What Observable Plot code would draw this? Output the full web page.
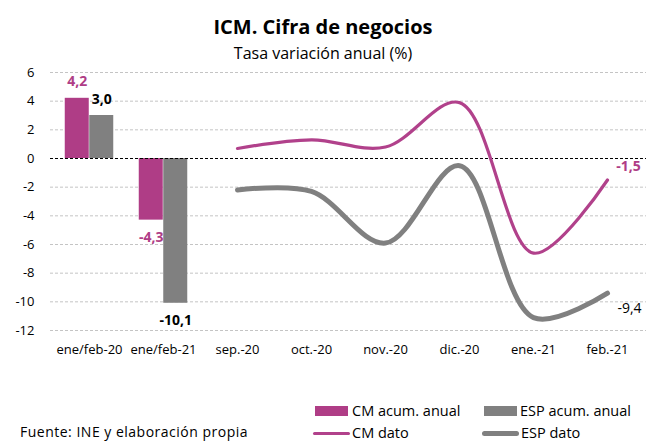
<!DOCTYPE html>
<html><head><meta charset="utf-8">
<script src="https://cdn.jsdelivr.net/npm/d3@7"></script>
<script src="https://cdn.jsdelivr.net/npm/@observablehq/plot@0.6"></script>
<style>
body{margin:0;background:#fff;font-family:'Open Sans',sans-serif;color:#000}
#wrap{position:relative;width:646px;height:441px;overflow:hidden;background:#fff}
.t{position:absolute;line-height:1;white-space:nowrap}
#title{top:17px;left:0;width:646px;text-align:center;font-weight:bold;font-size:20px}
#subtitle{top:45px;left:0;width:646px;text-align:center;font-size:16px}
#chart{position:absolute;top:62px;left:0}
#source{top:426px;left:20px;font-size:14px;letter-spacing:0.5px;line-height:12px}
.lg{font-size:14.5px;line-height:12px}
.sw{position:absolute}
</style></head>
<body><div id="wrap">
<div id="title" class="t"></div>
<div id="subtitle" class="t"></div>
<div id="chart"></div>
<div id="source" class="t"></div>
<div id="legend"></div>
</div>
<script>
// ---- data ----
const titleText = "ICM. Cifra de negocios";
const subtitleText = "Tasa variación anual (%)";
const sourceText = "Fuente:  INE y elaboración propia";
const categories = ["ene/feb-20","ene/feb-21","sep.-20","oct.-20","nov.-20","dic.-20","ene.-21","feb.-21"];
const barCats = ["ene/feb-20","ene/feb-21"];
const cmAcum = [4.2, -4.3];
const espAcum = [3.0, -10.1];
const monthCats = ["sep.-20","oct.-20","nov.-20","dic.-20","ene.-21","feb.-21"];
const cmDato = [0.7, 1.3, 0.8, 3.9, -6.6, -1.5];
const espDato = [-2.2, -2.3, -5.9, -0.5, -11.1, -9.4];
const yTicks = [6,4,2,0,-2,-4,-6,-8,-10,-12];
const seriesNames = ["CM acum. anual","ESP acum. anual","CM dato","ESP dato"];

const cmColor = "#af3d86", espColor = "#808080";
const cmLine = "#b1418b", espLine = "#808080";

document.getElementById("title").textContent = titleText;
document.getElementById("subtitle").textContent = subtitleText;
document.getElementById("source").textContent = sourceText;

const fmt = v => d3.format(".1f")(v).replace(".", ",").replace("−","-");

const cmBars = barCats.map((c,i)=>({cat:c, v:cmAcum[i]}));
const espBars = barCats.map((c,i)=>({cat:c, v:espAcum[i]}));
const cmPts = monthCats.map((c,i)=>({cat:c, v:cmDato[i]}));
const espPts = monthCats.map((c,i)=>({cat:c, v:espDato[i]}));

const bw = 74.5, barW = 24.5, side = (bw - 2*barW)/2;

const chart = Plot.plot({
  width: 646, height: 300,
  marginTop: 10, marginBottom: 32, marginLeft: 50, marginRight: 0,
  style: {fontFamily: "'Open Sans', sans-serif", fontSize: "13px", color: "#000", background: "#fff", overflow: "visible"},
  x: {type: "band", domain: categories, padding: 0, label: null},
  y: {domain: [-12, 6], label: null},
  marks: [
    Plot.ruleY(yTicks.filter(d => d !== 0), {stroke: "#c4c4c4", strokeWidth: 1, strokeDasharray: "3,2"}),
    Plot.barY(cmBars, {x: "cat", y: "v", fill: cmColor, insetLeft: side, insetRight: side + barW}),
    Plot.barY(espBars, {x: "cat", y: "v", fill: espColor, insetLeft: side + barW, insetRight: side}),
    Plot.ruleY([0], {stroke: "#000", strokeWidth: 1, strokeDasharray: "3,2"}),
    Plot.line(cmPts, {x: "cat", y: "v", stroke: cmLine, strokeWidth: 3.2, curve: "catmull-rom"}),
    Plot.line(espPts, {x: "cat", y: "v", stroke: espLine, strokeWidth: 5, curve: "catmull-rom"}),
    Plot.text(cmBars.filter(d => d.v >= 0), {x: "cat", y: "v", text: d => fmt(d.v), dx: -(barW/2), dy: -17, fill: cmColor, fontWeight: "bold", fontSize: 14}),
    Plot.text(cmBars.filter(d => d.v < 0), {x: "cat", y: "v", text: d => fmt(d.v), dx: -(barW/2), dy: 17, fill: cmColor, fontWeight: "bold", fontSize: 14}),
    Plot.text(espBars.filter(d => d.v >= 0), {x: "cat", y: "v", text: d => fmt(d.v), dx: barW/2, dy: -16, fill: "#000", fontWeight: "bold", fontSize: 14}),
    Plot.text(espBars.filter(d => d.v < 0), {x: "cat", y: "v", text: d => fmt(d.v), dx: barW/2, dy: 17, fill: "#000", fontWeight: "bold", fontSize: 14}),
    Plot.text(cmPts.slice(-1), {x: "cat", y: "v", text: d => fmt(d.v), dx: 21, dy: -13, fill: cmColor, fontWeight: "bold", fontSize: 14}),
    Plot.text(espPts.slice(-1), {x: "cat", y: "v", text: d => fmt(d.v), dx: 22, dy: 15, fill: "#000", fontSize: 14}),
    Plot.axisY({ticks: yTicks, tickSize: 0, tickPadding: 16, tickFormat: d => String(d), fontSize: 13}),
    Plot.axisX({tickSize: 0, tickPadding: 14, fontSize: 13})
  ]
});
document.getElementById("chart").appendChild(chart);

// legend
const lg = document.getElementById("legend");
const items = [
  {name: seriesNames[0], kind: "box", color: cmColor, x: 315, y: 406, tx: 352, ty: 405},
  {name: seriesNames[1], kind: "box", color: espColor, x: 484, y: 406, tx: 520, ty: 405},
  {name: seriesNames[2], kind: "line", color: cmLine, w: 3, x: 313, y: 433, tx: 352, ty: 427},
  {name: seriesNames[3], kind: "line", color: espLine, w: 5, x: 482, y: 433, tx: 521, ty: 427}
];
for (const it of items) {
  const s = document.createElement("div");
  s.className = "sw";
  if (it.kind === "box") {
    Object.assign(s.style, {left: it.x+"px", top: it.y+"px", width: "33px", height: "10px", background: it.color});
  } else {
    Object.assign(s.style, {left: it.x+"px", top: (it.y - it.w/2)+"px", width: "37px", height: it.w+"px", background: it.color, borderRadius: it.w/2+"px"});
  }
  lg.appendChild(s);
  const t = document.createElement("div");
  t.className = "t lg";
  Object.assign(t.style, {left: it.tx+"px", top: it.ty+"px"});
  t.textContent = it.name;
  lg.appendChild(t);
}
</script>
</body></html>
